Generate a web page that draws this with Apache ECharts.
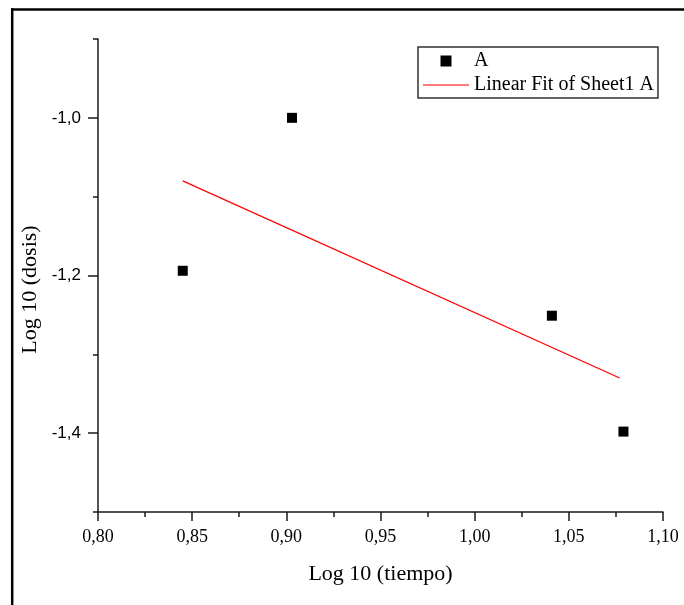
<!DOCTYPE html>
<html>
<head>
<meta charset="utf-8">
<script src="https://cdn.jsdelivr.net/npm/echarts@6/dist/echarts.min.js"></script>
<style>
  html, body { margin: 0; padding: 0; background: #fff; }
  #chart { width: 684px; height: 605px; }
</style>
</head>
<body>
<div id="chart"></div>
<script>
// Log 10 (tiempo) vs Log 10 (dosis), measured points
const logTiempo = [0.845, 0.903, 1.041, 1.079];
const logDosis  = [-1.194, -1.000, -1.251, -1.398];

// Straight-line fit, drawn between its two end points
const fitX = [0.845, 1.077];
const fitY = [-1.080, -1.330];

// Axis tick positions
const yMajorTicks = [-1.4, -1.2, -1.0];
const yMinorTicks = [-1.5, -1.3, -1.1, -0.9];

const seriesName = 'A';
const fitName = 'Linear Fit of Sheet1 A';

const pointData = logTiempo.map((x, i) => [x, logDosis[i]]);
const fitData = fitX.map((x, i) => [x, fitY[i]]);

const serif = '"Liberation Serif", "Times New Roman", serif';
const sans = '"Liberation Sans", Arial, sans-serif';
const axisColor = '#1a1a1a';

const chart = echarts.init(document.getElementById('chart'), null, { renderer: 'canvas' });

chart.setOption({
  animation: false,
  backgroundColor: '#fff',
  grid: { left: 98, top: 39, width: 565, height: 473, containLabel: false },
  legend: {
    left: 418,
    top: 47,
    orient: 'vertical',
    itemWidth: 46,
    itemHeight: 11,
    itemGap: 4,
    padding: [4, 4, 3, 5],
    borderColor: '#333',
    borderWidth: 1.5,
    borderRadius: 0,
    symbolKeepAspect: true,
    textStyle: { fontFamily: serif, fontSize: 20, color: '#000' },
    data: [
      { name: seriesName, icon: 'path://M0,0H10V10H0Z' },
      { name: fitName, icon: 'path://M0,0H46V1.2H0Z' }
    ]
  },
  xAxis: {
    type: 'value',
    min: 0.8,
    max: 1.1,
    interval: 0.05,
    name: 'Log 10 (tiempo)',
    nameLocation: 'middle',
    nameGap: 51,
    nameTextStyle: { fontFamily: serif, fontSize: 22, color: '#000' },
    axisLine: { show: true, onZero: false, lineStyle: { color: axisColor, width: 1.5 } },
    axisTick: { show: true, inside: false, length: 9, lineStyle: { color: axisColor, width: 1.5 } },
    minorTick: { show: true, splitNumber: 2, length: 5, lineStyle: { color: axisColor, width: 1.5 } },
    axisLabel: {
      margin: 16,
      fontFamily: serif,
      fontSize: 18,
      color: '#000',
      formatter: v => v.toFixed(2).replace('.', ',')
    },
    splitLine: { show: false },
    minorSplitLine: { show: false }
  },
  yAxis: [
    {
      type: 'value',
      min: -1.5,
      max: -0.9,
      interval: 0.1,
      name: 'Log 10 (dosis)',
      nameLocation: 'middle',
      nameGap: 57,
      nameRotate: 90,
      nameTextStyle: { fontFamily: serif, fontSize: 22, color: '#000', padding: [0, 28, 0, 0] },
      axisLine: { show: true, onZero: false, lineStyle: { color: axisColor, width: 1.5 } },
      axisTick: { show: true, length: 10, customValues: yMajorTicks, lineStyle: { color: axisColor, width: 1.5 } },
      axisLabel: {
        margin: 17,
        fontFamily: sans,
        fontSize: 17,
        color: '#000',
        customValues: yMajorTicks,
        formatter: v => v.toFixed(1).replace('.', ',')
      },
      splitLine: { show: false }
    },
    {
      type: 'value',
      min: -1.5,
      max: -0.9,
      interval: 0.1,
      position: 'left',
      axisLine: { show: false },
      axisTick: { show: true, length: 5, customValues: yMinorTicks, lineStyle: { color: axisColor, width: 1.5 } },
      axisLabel: { show: false },
      splitLine: { show: false }
    }
  ],
  series: [
    {
      name: seriesName,
      type: 'scatter',
      symbol: 'rect',
      symbolSize: 10,
      itemStyle: { color: '#000', opacity: 1 },
      data: pointData,
      z: 3
    },
    {
      name: fitName,
      type: 'line',
      symbol: 'none',
      showSymbol: false,
      lineStyle: { color: '#ff0000', width: 1.2 },
      itemStyle: { color: '#ff0000' },
      data: fitData,
      z: 2
    }
  ],
  graphic: [
    { type: 'line', shape: { x1: 11, y1: 9.5, x2: 684, y2: 9.5 }, style: { stroke: '#000', lineWidth: 2.5 } },
    { type: 'line', shape: { x1: 12.2, y1: 8.3, x2: 12.2, y2: 605 }, style: { stroke: '#000', lineWidth: 2.5 } }
  ]
});
</script>
</body>
</html>
